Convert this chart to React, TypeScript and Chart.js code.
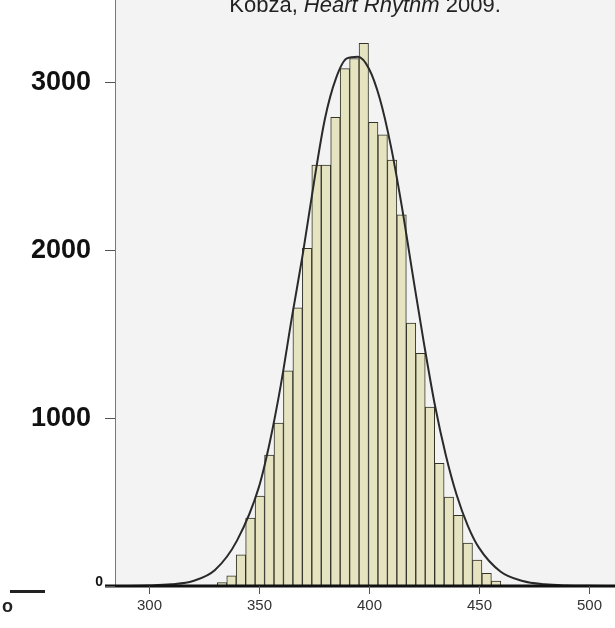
import React, { useEffect, useRef } from "react";
import { Chart, registerables } from "chart.js";
Chart.register(...registerables);

const binCenters = [333.2, 337.5, 341.8, 346.1, 350.4, 354.7, 359.0, 363.3, 367.6, 371.9, 376.2, 380.5, 384.8, 389.1, 393.4, 397.7, 402.0, 406.3, 410.6, 414.9, 419.2, 423.5, 427.8, 432.1, 436.4, 440.7, 445.0, 449.3, 453.6, 457.9];
const binCounts = [20, 60, 185, 405, 535, 780, 970, 1280, 1655, 2010, 2505, 2505, 2790, 3080, 3140, 3230, 2760, 2685, 2535, 2210, 1565, 1385, 1065, 730, 530, 420, 255, 155, 75, 30];
const curveX = [285, 300, 310, 320, 330, 340, 350, 355, 360, 365, 370, 375, 380, 385, 390, 395, 400, 405, 410, 415, 420, 425, 430, 435, 440, 445, 450, 460, 470, 480, 490, 500, 512];
const curveY = [0, 3, 10, 30, 95, 270, 590, 860, 1200, 1600, 1980, 2400, 2780, 3020, 3140, 3150, 3080, 2900, 2620, 2260, 1850, 1450, 1080, 780, 540, 360, 230, 85, 30, 10, 3, 1, 0];
const yTicks = [0, 1000, 2000, 3000];
const xTicks = [300, 350, 400, 450, 500];

export default function App() {
  const ref = useRef<HTMLCanvasElement>(null);
  useEffect(() => {
    const bg = {
      id: "bg",
      beforeDraw(c: any) {
        const { ctx, chartArea: a } = c;
        ctx.save();
        ctx.fillStyle = "#f3f3f3";
        ctx.fillRect(a.left, 0, a.right - a.left, a.bottom);
        ctx.restore();
      },
      afterDraw(c: any) {
        const { ctx, chartArea: a } = c;
        const xs = c.scales.x, ys = c.scales.y;
        ctx.save();
        ctx.strokeStyle = "#777"; ctx.lineWidth = 1;
        ctx.beginPath(); ctx.moveTo(a.left + 0.5, 0); ctx.lineTo(a.left + 0.5, a.bottom); ctx.stroke();
        ctx.strokeStyle = "#111"; ctx.lineWidth = 3;
        ctx.beginPath(); ctx.moveTo(a.left - 10, a.bottom); ctx.lineTo(a.right, a.bottom); ctx.stroke();
        ctx.lineWidth = 1; ctx.strokeStyle = "#555";
        ctx.fillStyle = "#333";
        ctx.font = "15px 'Liberation Sans'"; ctx.textAlign = "center"; ctx.textBaseline = "top";
        xTicks.forEach((v) => {
          const p = Math.round(xs.getPixelForValue(v)) + 0.5;
          ctx.beginPath(); ctx.moveTo(p, a.bottom); ctx.lineTo(p, a.bottom + 8); ctx.stroke();
          ctx.fillText(String(v), p, a.bottom + 12);
        });
        ctx.fillStyle = "#111"; ctx.textAlign = "right"; ctx.textBaseline = "middle";
        yTicks.forEach((v) => {
          const p = Math.round(ys.getPixelForValue(v)) + 0.5;
          ctx.beginPath(); ctx.moveTo(a.left - 10, p); ctx.lineTo(a.left, p); ctx.stroke();
          ctx.font = v === 0 ? "bold 14px 'Liberation Sans'" : "bold 27px 'Liberation Sans'";
          ctx.fillText(String(v), v === 0 ? 103 : 91, v === 0 ? p - 4 : p);
        });
        ctx.fillStyle = "#222"; ctx.textAlign = "left"; ctx.textBaseline = "alphabetic";
        const parts: [string, string][] = [["Kobza, ", "22px 'Liberation Sans'"], ["Heart Rhythm", "italic 22px 'Liberation Sans'"], [" 2009.", "22px 'Liberation Sans'"]];
        let w = 0;
        parts.forEach(([t, f]) => { ctx.font = f; w += ctx.measureText(t).width; });
        let x = 365 - w / 2;
        parts.forEach(([t, f]) => { ctx.font = f; ctx.fillText(t, x, 12); x += ctx.measureText(t).width; });
        ctx.font = "bold 18px 'Liberation Sans'";
        ctx.fillText("o", 2, 612);
        ctx.fillRect(10, 590, 35, 3);
        ctx.restore();
      },
    };
    const chart = new Chart(ref.current!, {
      type: "bar",
      data: {
        datasets: [
          {
            type: "line",
            data: curveX.map((x, i) => ({ x, y: curveY[i] })),
            borderColor: "#2a2a2a",
            borderWidth: 2,
            pointRadius: 0,
            cubicInterpolationMode: "monotone",
            order: 0,
          } as any,
          {
            data: binCenters.map((x, i) => ({ x, y: binCounts[i] })),
            backgroundColor: "#e6e4c0",
            borderColor: "#33332a",
            borderWidth: 1,
            barPercentage: 1,
            categoryPercentage: 1,
            order: 1,
          },
        ],
      },
      options: {
        animation: false,
        responsive: false,
        layout: { padding: 0 },
        plugins: { legend: { display: false }, tooltip: { enabled: false } },
        scales: {
          x: {
            type: "linear",
            min: 284.5,
            max: 512,
            offset: false,
            afterFit: (s: any) => { s.height = 42; },
            grid: { display: false },
            border: { display: false },
            ticks: { display: false },
          },
          y: {
            min: 0,
            max: 3488,
            afterFit: (s: any) => { s.width = 115; },
            grid: { display: false },
            border: { display: false },
            ticks: { display: false },
          },
        },
      },
      plugins: [bg],
    } as any);
    return () => chart.destroy();
  }, []);
  return (
    <div style={{ position: "absolute", left: 0, top: 0, width: 615, height: 628, background: "#fff" }}>
      <canvas ref={ref} width={615} height={628} style={{ width: 615, height: 628 }} />
    </div>
  );
}
